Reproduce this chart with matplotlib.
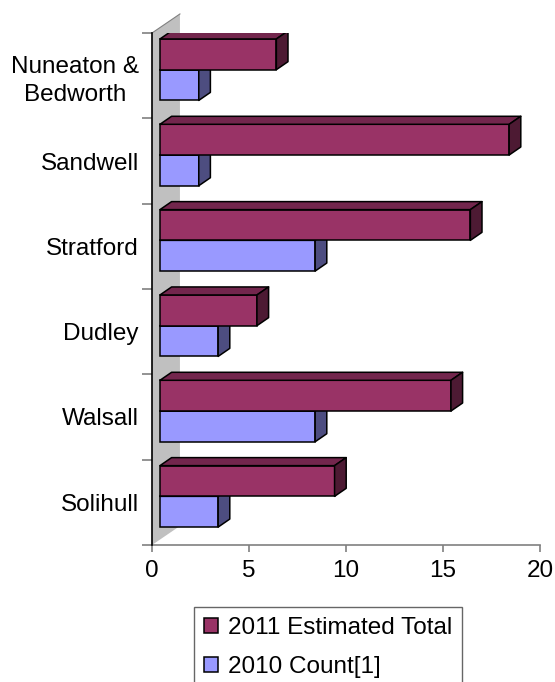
import matplotlib
matplotlib.use("Agg")
import matplotlib.pyplot as plt
from matplotlib.patches import Polygon, Patch

plt.rcParams['font.family'] = ['Liberation Sans', 'DejaVu Sans']

categories = ["Nuneaton &\nBedworth", "Sandwell", "Stratford", "Dudley", "Walsall", "Solihull"]
estimated_2011 = [6, 18, 16, 5, 15, 9]
count_2010 = [2, 2, 8, 3, 8, 3]
series_names = ["2011 Estimated Total", "2010 Count[1]"]
x_ticks = [0, 5, 10, 15, 20]

# colours: front, top, side faces
c2011 = ("#993366", "#73264d", "#4d1a33")
c2010 = ("#9999ff", "#7373bf", "#4d4d80")

FS = 17.5

fig = plt.figure(figsize=(5.55, 6.82), dpi=100)
ax = fig.add_axes([152 / 555, 1 - 545 / 682, 388 / 555, 512 / 682])

n = len(categories)
ax.set_xlim(0, 20)
ax.set_ylim(n - 0.5, -0.5)

# pseudo-3D geometry (data units)
x_front = 0.41       # front plane offset from the axis
dx, dy = 0.6, 0.094  # bar depth projection
wall_dx, wall_dy = 1.44, 0.223
bar_h = 0.36
pair_shift = -0.07

# back wall
wall = Polygon([(0, -0.5), (wall_dx, -0.5 - wall_dy), (wall_dx, n - 0.5 - wall_dy), (0, n - 0.5)],
               closed=True, facecolor="#c0c0c0", edgecolor="none", zorder=0.5, clip_on=False)
ax.add_patch(wall)
ax.plot([0, wall_dx], [-0.5, -0.5 - wall_dy], color="#808080", lw=0.8, clip_on=False, zorder=0.6)


def draw_bars(values, offset, colors, z):
    front, top, side = colors
    for i, v in enumerate(values):
        yc = i + pair_shift + offset
        ytop, ybot = yc - bar_h / 2, yc + bar_h / 2
        x0, x1 = x_front, x_front + v
        ax.barh(yc, v, height=bar_h, left=x0, color=front, edgecolor="black",
                linewidth=1.1, zorder=z)
        ax.add_patch(Polygon([(x0, ytop), (x0 + dx, ytop - dy), (x1 + dx, ytop - dy), (x1, ytop)],
                             closed=True, facecolor=top, edgecolor="black", lw=1.1,
                             zorder=z, joinstyle="round"))
        ax.add_patch(Polygon([(x1, ytop), (x1 + dx, ytop - dy), (x1 + dx, ybot - dy), (x1, ybot)],
                             closed=True, facecolor=side, edgecolor="black", lw=1.1,
                             zorder=z, joinstyle="round"))


draw_bars(count_2010, bar_h / 2, c2010, 2)
draw_bars(estimated_2011, -bar_h / 2, c2011, 3)

# axes styling
for s in ("top", "right"):
    ax.spines[s].set_visible(False)
ax.spines["left"].set_color("black")
ax.spines["left"].set_linewidth(1.2)
ax.spines["bottom"].set_color("#808080")
ax.spines["bottom"].set_linewidth(1.2)
ax.spines["left"].set_zorder(5)

ax.set_xticks(x_ticks)
ax.set_xticklabels([str(t) for t in x_ticks])
ax.tick_params(axis="x", direction="out", length=5, width=1.2, color="#808080",
               labelsize=FS, pad=6)

ax.set_yticks([i - 0.5 for i in range(n + 1)])
ax.set_yticklabels([])
ax.tick_params(axis="y", which="major", direction="out", length=7, width=1.2, color="#808080")
ax.set_yticks(range(n), minor=True)
ax.set_yticklabels(categories, minor=True, fontsize=FS, multialignment="center",
                   linespacing=1.35)
ax.tick_params(axis="y", which="minor", length=0, pad=9.5)

# legend
handles = [Patch(facecolor=c2011[0], edgecolor="black", lw=1.1),
           Patch(facecolor=c2010[0], edgecolor="black", lw=1.1)]
leg = fig.legend(handles, series_names, loc="upper left",
                 bbox_to_anchor=(194 / 555, 1 - 607 / 682), fontsize=FS,
                 frameon=True, fancybox=False, edgecolor="#404040",
                 handlelength=0.58, handleheight=0.58, handletextpad=0.38,
                 labelspacing=0.68, borderpad=0.42, borderaxespad=0)
leg.get_frame().set_linewidth(1.0)

fig.savefig("out.png", dpi=100)
